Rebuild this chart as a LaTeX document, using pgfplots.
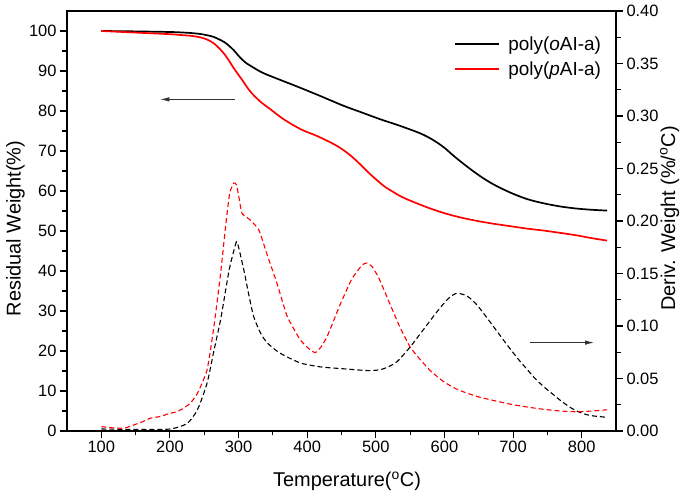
\documentclass[border=0pt]{standalone}
\usepackage{pgfplots}
\pgfplotsset{compat=1.18}
\usepackage{fontspec}
\setmainfont{Liberation Sans}
\usetikzlibrary{arrows.meta}
\definecolor{myred}{RGB}{255,0,0}
\pgfplotsset{
  legend image code/.code={\draw[#1, line width=2bp] (0bp,0bp) -- (44bp,0bp); \path (50bp,0bp);},
}
\begin{document}
\begin{tikzpicture}
\pgfplotsset{
  common/.style={
    scale only axis, width=549bp, height=420bp,
    xmin=50, xmax=850,
    major tick length=7bp, minor tick length=4.5bp,
    axis line style={line width=1.3bp},
    every tick/.style={line width=1.1bp, black},
    tick label style={font=\fontsize{16.5}{18}\selectfont},
    /pgf/number format/assume math mode=true,
  }
}
\begin{axis}[common,
  ymin=0, ymax=105,
  xtick={100,200,300,400,500,600,700,800},
  ytick={0,10,20,30,40,50,60,70,80,90,100},
  minor x tick num=1, minor y tick num=1,
  xtick pos=left, ytick pos=left,
  tick align=outside,
  legend cell align=left,
  legend style={at={(rel axis cs:0.70,0.9495)}, anchor=north west, draw=none, fill=none,
    font=\fontsize{19}{21}\selectfont, row sep=6bp},
]
\addplot[black, line width=1.7bp, smooth, tension=0.5] coordinates {
(100,100) (150,99.9) (200,99.75) (215,99.65) (230,99.5) (244.5,99.25) (255,98.9)
(264,98.5) (278.5,97.3) (286,96.3) (293,95.2) (299,94) (305,92.9) (311,92)
(317.4,91.3) (327,90.3) (337,89.4) (361,87.75) (385.6,86.1) (417,83.9) (453,81.3)
(480,79.6) (507,77.9) (530,76.6) (556,75.0) (570,74) (585,72.6) (600,70.8)
(614,68.7) (633,66.1) (653,63.6) (672,61.6) (696,59.6) (720,58.0) (745,56.9)
(770,56.1) (793,55.6) (815,55.3) (837,55.1)
};
\addlegendentry{poly(\textit{o}AI-a)}
\addplot[myred, line width=1.7bp, smooth, tension=0.5] coordinates {
(100,100) (150,99.6) (200,99.2) (215,99.0) (230,98.8) (244.5,98.4) (255,97.8)
(264,96.9) (271,95.8) (278.5,94.4) (286,92.6) (293,90.7) (305.3,87.75) (317.4,84.8)
(332,82.3) (346.6,80.4) (366,77.9) (391,75.4) (415,73.7) (439,71.7) (453,70.2)
(465,68.6) (477,66.7) (490,64.5) (501,62.8) (513,61.1) (525,59.8) (537,58.6)
(550,57.6) (575,55.9) (599,54.5) (623,53.4) (648,52.5) (672,51.8) (696,51.2)
(720,50.6) (745,50.1) (770,49.5) (793,48.9) (815,48.2) (837,47.6)
};
\addlegendentry{poly(\textit{p}AI-a)}
\draw[black!80, line width=0.8bp, -{Latex[length=9bp,width=4.5bp]}] (axis cs:295,82.9) -- (axis cs:186,82.9);
\draw[black!80, line width=0.8bp, -{Latex[length=9bp,width=4.5bp]}] (axis cs:725,22.1) -- (axis cs:818,22.1);
\end{axis}
\begin{axis}[common,
  ymin=0, ymax=0.40,
  axis x line=none, axis y line*=right,
  ytick={0,0.05,0.10,0.15,0.20,0.25,0.30,0.35,0.40},
  minor y tick num=1,
  tick align=outside,
  scaled y ticks=false,
  yticklabel style={/pgf/number format/.cd, fixed, fixed zerofill, precision=2},
]
\addplot[black, line width=1.1bp, dash pattern=on 5bp off 3bp, smooth, tension=0.4] coordinates {
(100,0.0019) (150,0.0015) (200,0.0019) (225,0.0072) (240,0.0202) (254,0.0453)
(264,0.0762) (274,0.1067) (286,0.1524) (293,0.1714) (297,0.1802) (300,0.1752)
(308,0.1524) (315,0.1295) (322,0.1090) (332,0.0933) (342,0.0838) (360,0.0743)
(390,0.0648) (420,0.0610) (450,0.0594) (490,0.0575) (510,0.0590) (530,0.0655)
(550,0.0800) (570,0.0971) (590,0.1143) (605,0.1257) (617,0.1310) (630,0.1295)
(640,0.1250) (650,0.1180) (660,0.1095) (672,0.0990) (685,0.0875) (696,0.0780)
(710,0.0665) (720,0.0590) (732,0.0500) (745,0.0420) (758,0.0350) (770,0.0286)
(782,0.0230) (793,0.0190) (805,0.0160) (815,0.0145) (837,0.0130)
};
\addplot[myred, line width=1.1bp, dash pattern=on 5bp off 3bp, smooth, tension=0.3] coordinates {
(100,0.0042) (110,0.0034) (123,0.0027) (135,0.0030) (147,0.0057) (160,0.0088)
(171.5,0.0122) (185,0.0137) (200,0.0168) (210,0.0183) (220,0.0217) (230,0.0267)
(240,0.0358) (254,0.0579) (264,0.0990) (273.6,0.1486) (281,0.1943) (287,0.2263)
(293,0.2362) (297,0.2343) (301,0.2210) (305,0.2072) (317,0.2010) (329.6,0.1914)
(341.8,0.1676) (356,0.1406) (371,0.1090) (390,0.0867) (405,0.0770) (412,0.0747)
(420,0.0800) (429,0.0899) (449,0.1219) (465,0.1448) (480,0.1581) (487,0.1600)
(495,0.1562) (505,0.1448) (520,0.1219) (535,0.0990) (550,0.0800) (565,0.0678)
(580,0.0571) (599,0.0469) (620,0.0392) (648,0.0328) (672,0.0290) (696,0.0255)
(720,0.0229) (745,0.0206) (770,0.0190) (793,0.0183) (815,0.0190) (837,0.0202)
};
\end{axis}
\node[anchor=base, font=\fontsize{20}{22}\selectfont] at ([xshift=5.5bp,yshift=-56bp]current axis.south) {Temperature(\textsuperscript{o}C)};
\node[anchor=base, rotate=90, font=\fontsize{20}{22}\selectfont] at ([xshift=-46.5bp,yshift=-7.5bp]current axis.west) {Residual Weight(\%)};
\node[anchor=base, rotate=90, font=\fontsize{20}{22}\selectfont] at ([xshift=59bp,yshift=2.5bp]current axis.east) {Deriv. Weight (\%/\textsuperscript{o}C)};
\pgfresetboundingbox
\path[use as bounding box] ([shift={(-67bp,-65bp)}]current axis.south west) rectangle ([shift={(70bp,11bp)}]current axis.north east);
\end{tikzpicture}
\end{document}
